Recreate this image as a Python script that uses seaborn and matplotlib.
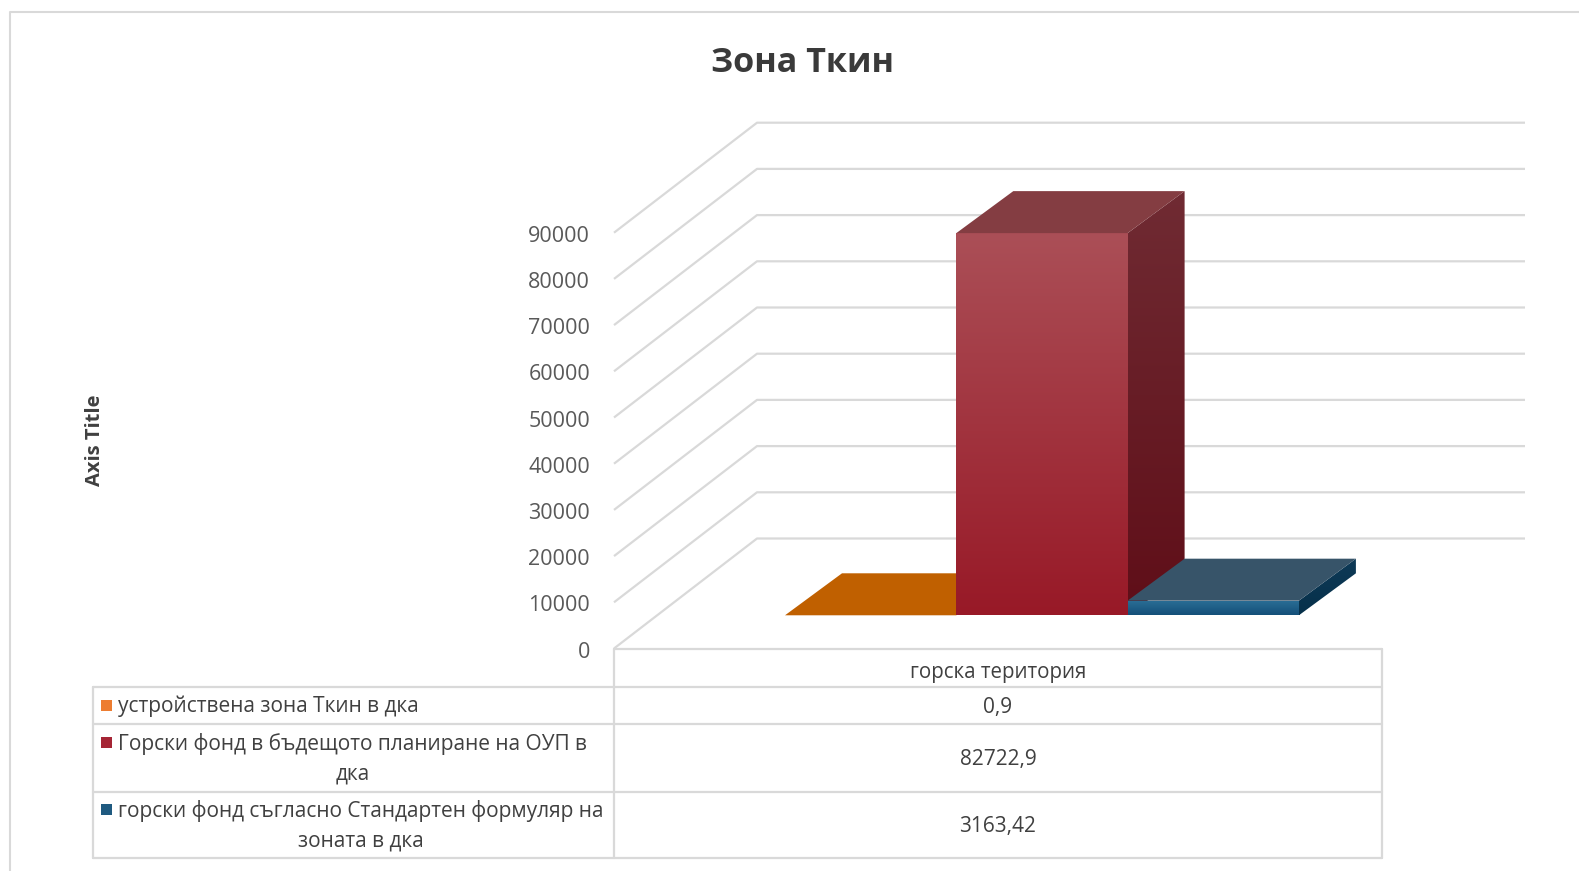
import textwrap

import matplotlib
matplotlib.use("Agg")
import matplotlib.pyplot as plt
import numpy as np
import pandas as pd
import seaborn as sns
from matplotlib.colors import LinearSegmentedColormap
from matplotlib.patches import Polygon, Rectangle

# data
category = "горска територия"
series = [
    "устройствена зона Ткин в дка",
    "Горски фонд в бъдещото планиране на ОУП в дка",
    "горски фонд съгласно Стандартен формуляр на зоната в дка",
]
values = [0.9, 82722.9, 3163.42]
value_text = ["0,9", "82722,9", "3163,42"]
y_ticks = [0, 10000, 20000, 30000, 40000, 50000, 60000, 70000, 80000, 90000]

# colours: legend swatch, front (top, bottom), side (top, bottom), top face
legend_colors = ["#ED7D31", "#A52535", "#1F5A80"]
front_top = ["#C06000", "#AB4F57", "#2B6E96"]
front_bot = ["#C06000", "#981927", "#145079"]
side_top = ["#9A4D00", "#702B33", "#0E3A57"]
side_bot = ["#9A4D00", "#5F0E18", "#06304A"]
top_face = ["#C06000", "#843D42", "#375469"]
GRID = "#D9D9D9"
TEXT = "#404040"

sns.set_theme(style="white")
plt.rcParams["font.family"] = ["Open Sans", "DejaVu Sans"]

W, H = 1579, 871
fig = plt.figure(figsize=(W / 100, H / 100), dpi=100)

# pixel layout of the pseudo-3D plot
PX = 46.2 / 10000      # pixels per value unit
UX = 171.3             # pixels per bar
BAR_X0 = 785           # left edge of first bar
BASE_Y = 615.3         # bar base (front)
FLOOR_Y = 648.5        # front edge of floor
FLOOR_L, FLOOR_R = 614, 1382
AX_L, AX_R, AX_T, AX_B = 560, 1560, 90, 670

ax = fig.add_axes([AX_L / W, 1 - AX_B / H, (AX_R - AX_L) / W, (AX_B - AX_T) / H])
ax.set_facecolor("none")

df = pd.DataFrame({"series": series, "value": values})
sns.barplot(data=df, x="series", y="value", hue="series", palette=legend_colors,
            width=1.0, dodge=False, legend=False, saturation=1, ax=ax)


def xd(px):
    return (px - BAR_X0) / UX - 0.5


def yd(py):
    return (BASE_Y - py) / PX


# depth offsets in data units
dxw, dyw = 143 / UX, 110 / PX      # floor / walls
dxb, dyb = 57 / UX, 42 / PX        # bars
x_fl, x_fr, y_f = xd(FLOOR_L), xd(FLOOR_R), yd(FLOOR_Y)

# gridlines on side + back wall, tick labels at the front edge
for v in y_ticks:
    yy = y_f + v
    ax.plot([x_fl, x_fl + dxw, x_fr + dxw], [yy, yy + dyw, yy + dyw],
            color=GRID, lw=1.6, zorder=1, solid_capstyle="butt")
    ax.text(x_fl - 24 / UX, yy - 3.5 / PX, str(v), ha="right", va="center",
            fontsize=15.5, color="#595959")


def grad(verts_or_patch, c_top, c_bot, z):
    if isinstance(verts_or_patch, Rectangle):
        clip = verts_or_patch
        x0, y0 = clip.get_x(), clip.get_y()
        ext = (x0, x0 + clip.get_width(), y0, y0 + clip.get_height())
    else:
        clip = Polygon(verts_or_patch, closed=True, facecolor="none", edgecolor="none")
        ax.add_patch(clip)
        xs, ys = zip(*verts_or_patch)
        ext = (min(xs), max(xs), min(ys), max(ys))
    cmap = LinearSegmentedColormap.from_list("g", [c_bot, c_top])
    im = ax.imshow(np.linspace(0, 1, 256).reshape(-1, 1), cmap=cmap, extent=ext,
                   origin="lower", aspect="auto", zorder=z, interpolation="bilinear")
    im.set_clip_path(clip)


bars = sorted(ax.patches, key=lambda p: p.get_x())
for i, p in enumerate(bars):
    z = 4 + i
    x0, w, h = p.get_x(), p.get_width(), p.get_height()
    x1 = x0 + w
    p.set_facecolor(front_bot[i])
    p.set_edgecolor("none")
    p.set_zorder(z)
    if h > 0.01 / PX:
        grad(p, front_top[i], front_bot[i], z + 0.1)
    side = [(x1, 0), (x1 + dxb, dyb), (x1 + dxb, dyb + h), (x1, h)]
    grad(side, side_top[i], side_bot[i], z + 0.2)
    top = [(x0, h), (x1, h), (x1 + dxb, h + dyb), (x0 + dxb, h + dyb)]
    ax.add_patch(Polygon(top, closed=True, facecolor=top_face[i],
                         edgecolor="none", zorder=z + 0.3))

ax.set_xlim(xd(AX_L), xd(AX_R))
ax.set_ylim(yd(AX_B), yd(AX_T))
ax.set_aspect("auto")
ax.axis("off")

# overlay in pixel space for table, title, frame
tx = fig.add_axes([0, 0, 1, 1], zorder=-1)
tx.set_xlim(0, W)
tx.set_ylim(H, 0)
tx.axis("off")

# chart frame
tx.plot([10, 10, W], [H, 12, 12], color=GRID, lw=1.5)

# data table
T_L, T_M, T_R = 92.6, FLOOR_L, FLOOR_R
rows = [FLOOR_Y, 686.8, 724.0, 791.5, 858.0]
tx.plot([T_M, T_R], [rows[0], rows[0]], color=GRID, lw=1.6)
for r in rows[1:]:
    tx.plot([T_L, T_R], [r, r], color=GRID, lw=1.6)
tx.plot([T_L, T_L], [rows[1], rows[-1]], color=GRID, lw=1.6)
tx.plot([T_M, T_M], [rows[0], rows[-1]], color=GRID, lw=1.6)
tx.plot([T_R, T_R], [rows[0], rows[-1]], color=GRID, lw=1.6)

tx.text((T_M + T_R) / 2, (rows[0] + rows[1]) / 2 + 5, category,
        ha="center", va="center", fontsize=14.8, color=TEXT)
for i, name in enumerate(series):
    r0, r1 = rows[i + 1], rows[i + 2]
    yc = (r0 + r1) / 2
    label = textwrap.fill(name, width=43)
    nlines = label.count("\n") + 1
    tx.text(118, yc + 1, label, ha="left", va="center", multialignment="center",
            fontsize=15, color=TEXT, linespacing=1.55)
    y_first = yc - (nlines - 1) * 15
    tx.add_patch(Rectangle((101, y_first - 5.5), 11, 11, facecolor=legend_colors[i],
                           edgecolor="none"))
    tx.text((T_M + T_R) / 2, yc + 2, value_text[i], ha="center", va="center",
            fontsize=15, color=TEXT)

fig.text(803 / W, 1 - 63 / H, "Зона Ткин", ha="center", va="center",
         fontsize=24.6, fontweight="bold", color="#3A3A3A")
fig.text(95 / W, 1 - 440 / H, "Axis Title", rotation=90, ha="center", va="center",
         fontsize=14.5, fontweight="bold", color=TEXT)

fig.savefig("out.png", dpi=100, facecolor="white")
